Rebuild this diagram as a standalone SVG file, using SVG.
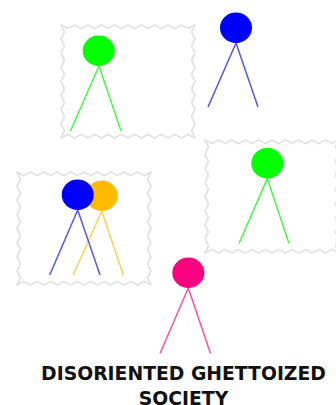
<svg xmlns="http://www.w3.org/2000/svg" width="336" height="405" viewBox="0 0 336 405">
<style>
.frame{fill:#fff;stroke:#e2e2e2;stroke-width:1.8;stroke-linejoin:round}
.leg{fill:none;stroke-width:1.5}
.g{fill:#0f0}.g .leg{stroke:#44f844}
.b{fill:#00f}.b .leg{stroke:#5555f0}
.o{fill:#ffbb00}.o .leg{stroke:#fdd050}
.p{fill:#ff0080}.p .leg{stroke:#fb50a0}
text{font-family:"DejaVu Sans","Liberation Sans",sans-serif;font-weight:700;font-size:18.8px;fill:#111;text-anchor:middle}
</style>
<defs>
<path id="zig" d="M0 0l6.7 3.5 6.7-3.5 6.7 3.5 6.7-3.5 6.7 3.5 6.7-3.5 6.7 3.5 6.7-3.5 6.7 3.5 6.7-3.5 6.7 3.5 6.7-3.5 6.7 3.5 6.7-3.5 6.7 3.5 6.7-3.5 6.7 3.5 6.7-3.5 6.7 3.5 6.7-3.5 -3.5 7.06 3.5 7.06 -3.5 7.06 3.5 7.06 -3.5 7.06 3.5 7.06 -3.5 7.06 3.5 7.06 -3.5 7.06 3.5 7.06 -3.5 7.06 3.5 7.06 -3.5 7.06 3.5 7.06 -3.5 7.06 3.5 7.06 -6.7-3.5 -6.7 3.5 -6.7-3.5 -6.7 3.5 -6.7-3.5 -6.7 3.5 -6.7-3.5 -6.7 3.5 -6.7-3.5 -6.7 3.5 -6.7-3.5 -6.7 3.5 -6.7-3.5 -6.7 3.5 -6.7-3.5 -6.7 3.5 -6.7-3.5 -6.7 3.5 -6.7-3.5 -6.7 3.5 3.5-7.06 -3.5-7.06 3.5-7.06 -3.5-7.06 3.5-7.06 -3.5-7.06 3.5-7.06 -3.5-7.06 3.5-7.06 -3.5-7.06 3.5-7.06 -3.5-7.06 3.5-7.06 -3.5-7.06 3.5-7.06 -3.5-7.06z"/>
</defs>
<g id="frame-1"><use href="#zig" class="frame" x="61" y="25"/></g>
<g id="frame-2"><use href="#zig" class="frame" x="17" y="172"/></g>
<g id="frame-3"><use href="#zig" class="frame" x="205" y="140"/></g>
<g id="figure-green-1" class="g"><path class="leg" d="M70.5 131L99 66L121 131"/><ellipse cx="98.7" cy="50.7" rx="16" ry="15.3"/></g>
<g id="figure-blue-1" class="b"><path class="leg" d="M208 107L236 43L258 107"/><ellipse cx="236" cy="27.7" rx="16" ry="15.3"/></g>
<g id="figure-orange" class="o"><path class="leg" d="M73 275.5L101.7 211L123.5 275.5"/><ellipse cx="101.7" cy="195.7" rx="16" ry="15.3"/></g>
<g id="figure-blue-2" class="b"><path class="leg" d="M49.7 275L77.7 210L100 275"/><ellipse cx="77.7" cy="194.7" rx="16" ry="15.3"/></g>
<g id="figure-green-2" class="g"><path class="leg" d="M239 243.5L267.3 178.6L289 243.5"/><ellipse cx="267.3" cy="163.3" rx="16" ry="15.3"/></g>
<g id="figure-pink" class="p"><path class="leg" d="M160 353.5L188.3 288L210.5 353.5"/><ellipse cx="188.3" cy="272.7" rx="16" ry="15.3"/></g>
<g id="label"><text x="183.5" y="380">DISORIENTED GHETTOIZED</text><text x="183.5" y="405">SOCIETY</text></g>
</svg>
